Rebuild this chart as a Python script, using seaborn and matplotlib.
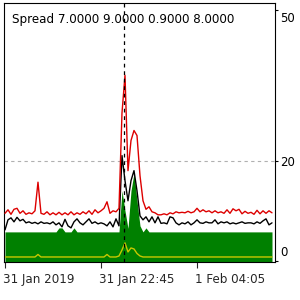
import matplotlib
matplotlib.use("Agg")
import matplotlib.pyplot as plt
import matplotlib.transforms as mtrans
import seaborn as sns
import pandas as pd

title_text = "Spread 7.0000 9.0000 0.9000 8.0000"
tick_labels = ["31 Jan 2019", "31 Jan 22:45", "1 Feb 04:05"]
tick_positions = [0, 32, 64]
y_ticks = [0, 20, 50]
level_value = 20
cursor_x = 39.67

max_spread = [9.5, 10.2, 9.3, 10.3, 10.5, 9.5, 10.0, 9.3, 9.6, 9.4,
              10.0, 15.7, 9.5, 9.3, 9.8, 9.2, 9.6, 9.2, 9.7, 9.2,
              9.6, 9.2, 9.8, 9.2, 9.6, 9.3, 9.8, 9.4, 10.0, 9.3,
              10.2, 9.6, 10.0, 10.5, 11.8, 9.5, 10.0, 9.8, 10.5, 29.5,
              37.0, 18.0, 24.0, 26.0, 25.0, 17.0, 12.0, 10.3, 10.8, 9.8,
              9.6, 9.2, 9.2, 9.4, 9.2, 9.6, 9.4, 9.8, 9.6, 9.7,
              9.6, 9.9, 9.6, 9.8, 10.5, 9.8, 10.2, 9.8, 10.0, 9.6,
              10.0, 9.6, 9.8, 9.5, 10.2, 9.5, 10.4, 10.0, 10.3, 9.4,
              9.9, 9.5, 9.7, 9.3, 10.1, 9.4, 10.0, 9.5, 10.0, 9.6]

avg_spread = [6.2, 8.2, 8.6, 7.8, 8.7, 8.0, 8.3, 7.6, 7.8, 7.5,
              7.7, 7.4, 7.8, 7.5, 7.6, 7.4, 7.8, 7.2, 7.6, 6.8,
              8.3, 7.0, 6.6, 7.8, 8.4, 7.6, 7.2, 7.8, 8.4, 7.5,
              7.8, 7.4, 7.6, 7.4, 7.0, 7.8, 6.8, 8.4, 7.0, 21.0,
              16.0, 12.0, 16.0, 18.0, 14.0, 9.0, 8.2, 8.8, 7.8, 8.8,
              7.6, 8.8, 7.5, 7.6, 7.4, 8.8, 8.6, 7.6, 7.2, 7.6,
              7.4, 7.8, 7.2, 7.6, 8.2, 7.6, 7.5, 7.8, 7.6, 7.6,
              8.2, 7.4, 7.8, 7.6, 7.8, 7.4, 7.6, 7.4, 7.6, 7.8,
              7.5, 7.6, 7.6, 7.4, 7.8, 7.5, 8.0, 8.4, 7.2, 7.6]

min_spread = [5.8, 5.8, 5.8, 5.8, 5.8, 5.8, 5.8, 5.8, 5.8, 5.8,
              5.8, 5.8, 5.8, 5.8, 5.8, 5.8, 5.8, 5.8, 6.6, 6.6,
              5.8, 5.8, 5.8, 6.6, 5.8, 5.8, 5.8, 5.8, 5.8, 5.8,
              5.8, 5.8, 5.8, 5.8, 5.8, 5.8, 5.8, 5.8, 5.8, 14.0,
              10.0, 6.5, 14.0, 17.5, 12.0, 7.0, 5.8, 6.6, 5.8, 5.8,
              5.8, 5.8, 5.8, 5.8, 5.8, 5.8, 5.8, 5.8, 5.8, 5.8,
              5.8, 5.8, 5.8, 5.8, 5.8, 5.8, 5.8, 5.8, 5.8, 5.8,
              5.8, 5.8, 5.8, 5.8, 5.8, 5.8, 5.8, 5.8, 5.8, 5.8,
              5.8, 5.8, 5.8, 5.8, 5.8, 5.8, 5.8, 5.8, 5.8, 5.8]

tick_spread = [0.8, 0.8, 0.8, 0.8, 0.8, 0.8, 0.8, 0.8, 0.8, 0.8,
               0.8, 1.3, 0.8, 0.8, 0.8, 0.8, 0.8, 0.8, 0.8, 0.8,
               0.8, 0.8, 0.8, 0.8, 0.8, 0.8, 0.8, 0.8, 0.8, 0.8,
               0.8, 0.8, 0.8, 0.8, 1.3, 0.8, 0.8, 0.8, 1.0, 2.2,
               3.6, 1.8, 2.6, 2.4, 1.5, 1.0, 0.8, 0.8, 0.8, 0.8,
               0.8, 0.8, 0.8, 0.8, 0.8, 0.8, 0.8, 0.8, 0.8, 0.8,
               0.8, 0.8, 0.8, 0.8, 0.8, 0.8, 0.8, 0.8, 0.8, 0.8,
               0.8, 0.8, 0.8, 0.8, 0.8, 0.8, 0.8, 0.8, 0.8, 0.8,
               0.8, 0.8, 0.8, 0.8, 0.8, 0.8, 0.8, 0.8, 0.8, 0.8]

bar_index = list(range(len(max_spread)))
df = pd.DataFrame({"bar": bar_index, "max": max_spread, "avg": avg_spread,
                   "min": min_spread, "tick": tick_spread})

sns.set_style("white")
plt.rcParams["font.family"] = ["DejaVu Sans"]

fig = plt.figure(figsize=(3, 3), dpi=100)
ax = fig.add_axes([4 / 300, 1 - 262 / 300, 271 / 300, 259 / 300])

ax.fill_between(df["bar"], -1, df["min"], color="#008000", linewidth=0, zorder=1)
sns.lineplot(data=df, x="bar", y="tick", ax=ax, color="#c8c800", linewidth=1.0, zorder=2)
sns.lineplot(data=df, x="bar", y="avg", ax=ax, color="black", linewidth=1.0, zorder=3)
sns.lineplot(data=df, x="bar", y="max", ax=ax, color="#dd0000", linewidth=1.0, zorder=4)

ax.axhline(level_value, color="#b0b0b0", linestyle=(0, (3, 3)), linewidth=0.8, zorder=0)
ax.axvline(cursor_x, color="black", linestyle=(0, (3, 3)), linewidth=0.9, zorder=5)

ax.set_xlim(-0.33, 90)
ax.set_ylim(-0.2, 51.4)

ax.yaxis.tick_right()
ax.set_yticks(y_ticks)
ax.set_yticklabels([str(v) for v in y_ticks], fontsize=8.5)
ax.tick_params(axis="y", length=2, width=0.8, pad=2, colors="black")
for lab, v in zip(ax.get_yticklabels(), y_ticks):
    lab.set_va("center")
    if v == 0:
        dy = 8
    elif v == 50:
        dy = -8
    else:
        dy = -2
    lab.set_transform(lab.get_transform() + mtrans.ScaledTranslation(0, dy / 100, fig.dpi_scale_trans))

ax.set_xticks(tick_positions)
ax.set_xticklabels(tick_labels, fontsize=8.6, ha="left")
ax.tick_params(axis="x", length=4, width=0.8, pad=4, direction="out", bottom=True)
offset = mtrans.ScaledTranslation(-2 / 100, 0, fig.dpi_scale_trans)
for lab in ax.get_xticklabels():
    lab.set_transform(lab.get_transform() + offset)

ax.set_xlabel("")
ax.set_ylabel("")
for s in ax.spines.values():
    s.set_color("black")
    s.set_linewidth(0.8)

ax.text(8 / 271, (262 - 19) / 259, title_text, transform=ax.transAxes, fontsize=8.6,
        ha="left", va="center", color="black")

fig.savefig("out.png", dpi=100)
